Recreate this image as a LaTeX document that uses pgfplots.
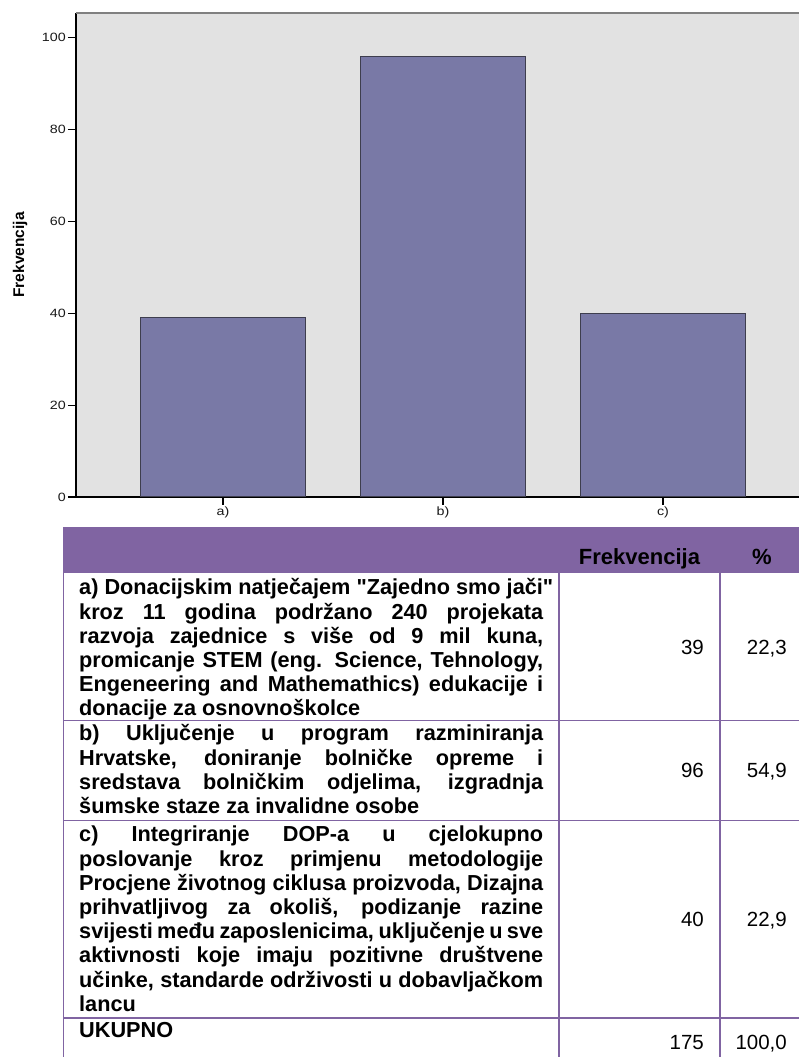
\documentclass[border=0pt]{standalone}
\usepackage{fontspec}
\setmainfont{Liberation Sans}
\newfontfamily\chartfont[FakeStretch=1.19]{Liberation Sans}
\usepackage{pgfplots}
\pgfplotsset{compat=1.18}

\definecolor{plotbg}{RGB}{226,226,226}
\definecolor{barfill}{RGB}{121,121,166}
\definecolor{bardraw}{RGB}{62,62,78}
\definecolor{topline}{RGB}{128,128,128}
\definecolor{tabpurple}{RGB}{128,100,162}

% one table line: justified to the column width, or natural width for a last line
\newcommand\tabfont{\bfseries\fontsize{21.7}{24.2}\selectfont}
\newcommand\numfont{\fontsize{20.5}{24}\selectfont}
\newcommand\jline[2]{\node[anchor=base west, inner sep=0pt, font=\tabfont] at (79,#1) {\hbox to 464pt{#2}};}
\newcommand\lline[2]{\node[anchor=base west, inner sep=0pt, font=\tabfont] at (79,#1) {#2};}

\begin{document}
\begin{tikzpicture}[x=1pt, y=1pt]
\useasboundingbox (0,0) rectangle (799,1057);

\begin{axis}[
  at={(76pt,560pt)}, anchor=south west,
  width=734pt, height=484pt, scale only axis,
  xmin=-0.668, xmax=2.668,
  ymin=0, ymax=105.4,
  axis x line*=bottom, axis y line*=left,
  axis line style={black, line width=1.3pt, -},
  axis background/.style={fill=plotbg},
  xtick={0,1,2}, xticklabels={a),b),c)},
  ytick={0,20,40,60,80,100},
  tick align=outside, major tick length=8pt,
  tick style={black, line width=1.2pt},
  /pgf/number format/assume math mode=true,
  ticklabel style={font=\chartfont\fontsize{12}{12}\selectfont, text=black!90},
  xticklabel style={inner sep=1.5pt},
  yticklabel style={inner sep=2pt},
  ylabel={Frekvencija},
  every axis y label/.style={at={(axis description cs:-0.0763,0.5)}, rotate=90,
    anchor=center, font=\bfseries\fontsize{15.5}{15.5}\selectfont},
]
\draw[topline, line width=1.6pt] (rel axis cs:0,1) -- (rel axis cs:1,1);
\addplot[ybar, bar width=0.75, fill=barfill, draw=bardraw, line width=1pt]
  coordinates {(0,39) (1,96) (2,40)};
\end{axis}

% table below the chart
\fill[tabpurple] (63,484) rectangle (830,530);
\begin{scope}[tabpurple, line width=1.5pt]
  \draw (63.5,484) -- (63.5,-10);
  \draw (559,484) -- (559,-10);
  \draw (720,484) -- (720,-10);
  \draw (63,336.3) -- (830,336.3);
  \draw (63,236.3) -- (830,236.3);
  \draw (63,39) -- (830,39);
\end{scope}

\node[anchor=base, inner sep=0pt, font=\bfseries\fontsize{22}{24}\selectfont] at (639.5,492) {Frekvencija};
\node[anchor=base, inner sep=0pt, font=\bfseries\fontsize{22}{24}\selectfont] at (762,492) {\%};

\lline{462}{a) Donacijskim natječajem \textquotedbl Zajedno smo jači\textquotedbl}
\jline{437.8}{kroz 11 godina podržano 240 projekata}
\jline{413.6}{razvoja zajednice s više od 9 mil kuna,}
\jline{389.4}{promicanje STEM (eng. Science, Tehnology,}
\jline{365.2}{Engeneering and Mathemathics) edukacije i}
\lline{341}{donacije za osnovnoškolce}

\jline{316}{b) Uključenje u program razminiranja}
\jline{291.8}{Hrvatske, doniranje bolničke opreme i}
\jline{267.6}{sredstava bolničkim odjelima, izgradnja}
\lline{243.4}{šumske staze za invalidne osobe}

\jline{215}{c) Integriranje DOP-a u cjelokupno}
\jline{190.8}{poslovanje kroz primjenu metodologije}
\jline{166.6}{Procjene životnog ciklusa proizvoda, Dizajna}
\jline{142.4}{prihvatljivog za okoliš, podizanje razine}
\jline{118.2}{svijesti među zaposlenicima, uključenje u sve}
\jline{94}{aktivnosti koje imaju pozitivne društvene}
\jline{69.8}{učinke, standarde održivosti u dobavljačkom}
\lline{45.6}{lancu}

\lline{19}{UKUPNO}

\node[anchor=base east, inner sep=0pt, font=\numfont] at (704,402.5) {39};
\node[anchor=base east, inner sep=0pt, font=\numfont] at (787,402.5) {22,3};
\node[anchor=base east, inner sep=0pt, font=\numfont] at (704,279) {96};
\node[anchor=base east, inner sep=0pt, font=\numfont] at (787,279) {54,9};
\node[anchor=base east, inner sep=0pt, font=\numfont] at (704,130) {40};
\node[anchor=base east, inner sep=0pt, font=\numfont] at (787,130) {22,9};
\node[anchor=base east, inner sep=0pt, font=\numfont] at (704,7.5) {175};
\node[anchor=base east, inner sep=0pt, font=\numfont] at (787,7.5) {100,0};
\end{tikzpicture}
\end{document}
